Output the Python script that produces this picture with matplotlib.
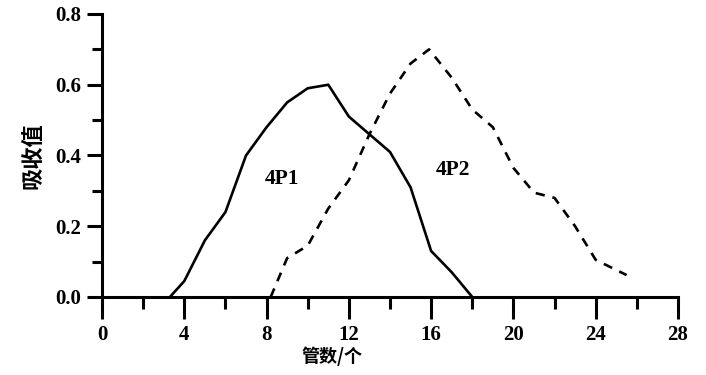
import numpy as np
import matplotlib
matplotlib.use("Agg")
import matplotlib.pyplot as plt
from matplotlib.ticker import MultipleLocator

# fraction (tube) numbers and absorbance
p1_x = [3.3, 4, 5, 6, 7, 8, 9, 10, 11, 12, 13, 14, 15, 16, 17, 18]
p1_y = [0.0, 0.045, 0.16, 0.24, 0.40, 0.48, 0.55, 0.59, 0.60, 0.51, 0.46, 0.41, 0.31, 0.13, 0.07, 0.0]

p2_x = [8.2, 9, 10, 11, 12, 13, 14, 15, 15.9, 17, 18, 19, 20, 21, 22, 23, 24, 25.5]
p2_y = [0.0, 0.11, 0.145, 0.25, 0.33, 0.46, 0.575, 0.66, 0.70, 0.62, 0.53, 0.48, 0.365,
        0.295, 0.28, 0.20, 0.105, 0.062]

x_label = "管数/个"
y_label = "吸收值"

serif = ["Liberation Serif", "DejaVu Serif"]
cjk = ["Noto Sans CJK SC", "DejaVu Sans"]


def main():
    fig = plt.figure(figsize=(7.06, 3.75), dpi=100)
    ax = fig.add_axes([0.1445, 0.208, 0.8158, 0.7547])

    ax.plot(p1_x, p1_y, color="black", lw=1.9, solid_joinstyle="round")
    ax.plot(p2_x, p2_y, color="black", lw=1.9, linestyle=(0, (3.5, 3)))

    ax.text(8.75, 0.334, "4P1", family=serif, weight="bold", fontsize=15.5,
            ha="center", va="center")
    ax.text(17.06, 0.359, "4P2", family=serif, weight="bold", fontsize=15.5,
            ha="center", va="center")

    ax.set_xlim(0, 28)
    ax.set_ylim(0, 0.8)
    ax.xaxis.set_major_locator(MultipleLocator(4))
    ax.xaxis.set_minor_locator(MultipleLocator(2))
    ax.yaxis.set_major_locator(MultipleLocator(0.2))
    ax.yaxis.set_minor_locator(MultipleLocator(0.1))
    ax.yaxis.set_major_formatter(lambda v, pos: f"{v:.1f}")

    for side in ("top", "right"):
        ax.spines[side].set_visible(False)
    for side in ("left", "bottom"):
        ax.spines[side].set_linewidth(2.2)

    ax.tick_params(axis="x", which="major", direction="out", length=16, width=2.2, pad=4)
    ax.tick_params(axis="x", which="minor", direction="out", length=8.5, width=2.2)
    ax.tick_params(axis="y", which="major", direction="out", length=11, width=2.2, pad=4)
    ax.tick_params(axis="y", which="minor", direction="out", length=7, width=2.2)
    for lab in ax.get_xticklabels() + ax.get_yticklabels():
        lab.set_family(serif)
        lab.set_fontweight("bold")
        lab.set_fontsize(15)

    ax.set_xlabel(x_label, family=cjk, weight="bold", fontsize=13, x=0.40, labelpad=1.5)
    ax.set_ylabel(y_label, family=cjk, weight="bold", fontsize=16, labelpad=8)

    fig.savefig("out.png", dpi=100)


if __name__ == '__main__':
    main()
